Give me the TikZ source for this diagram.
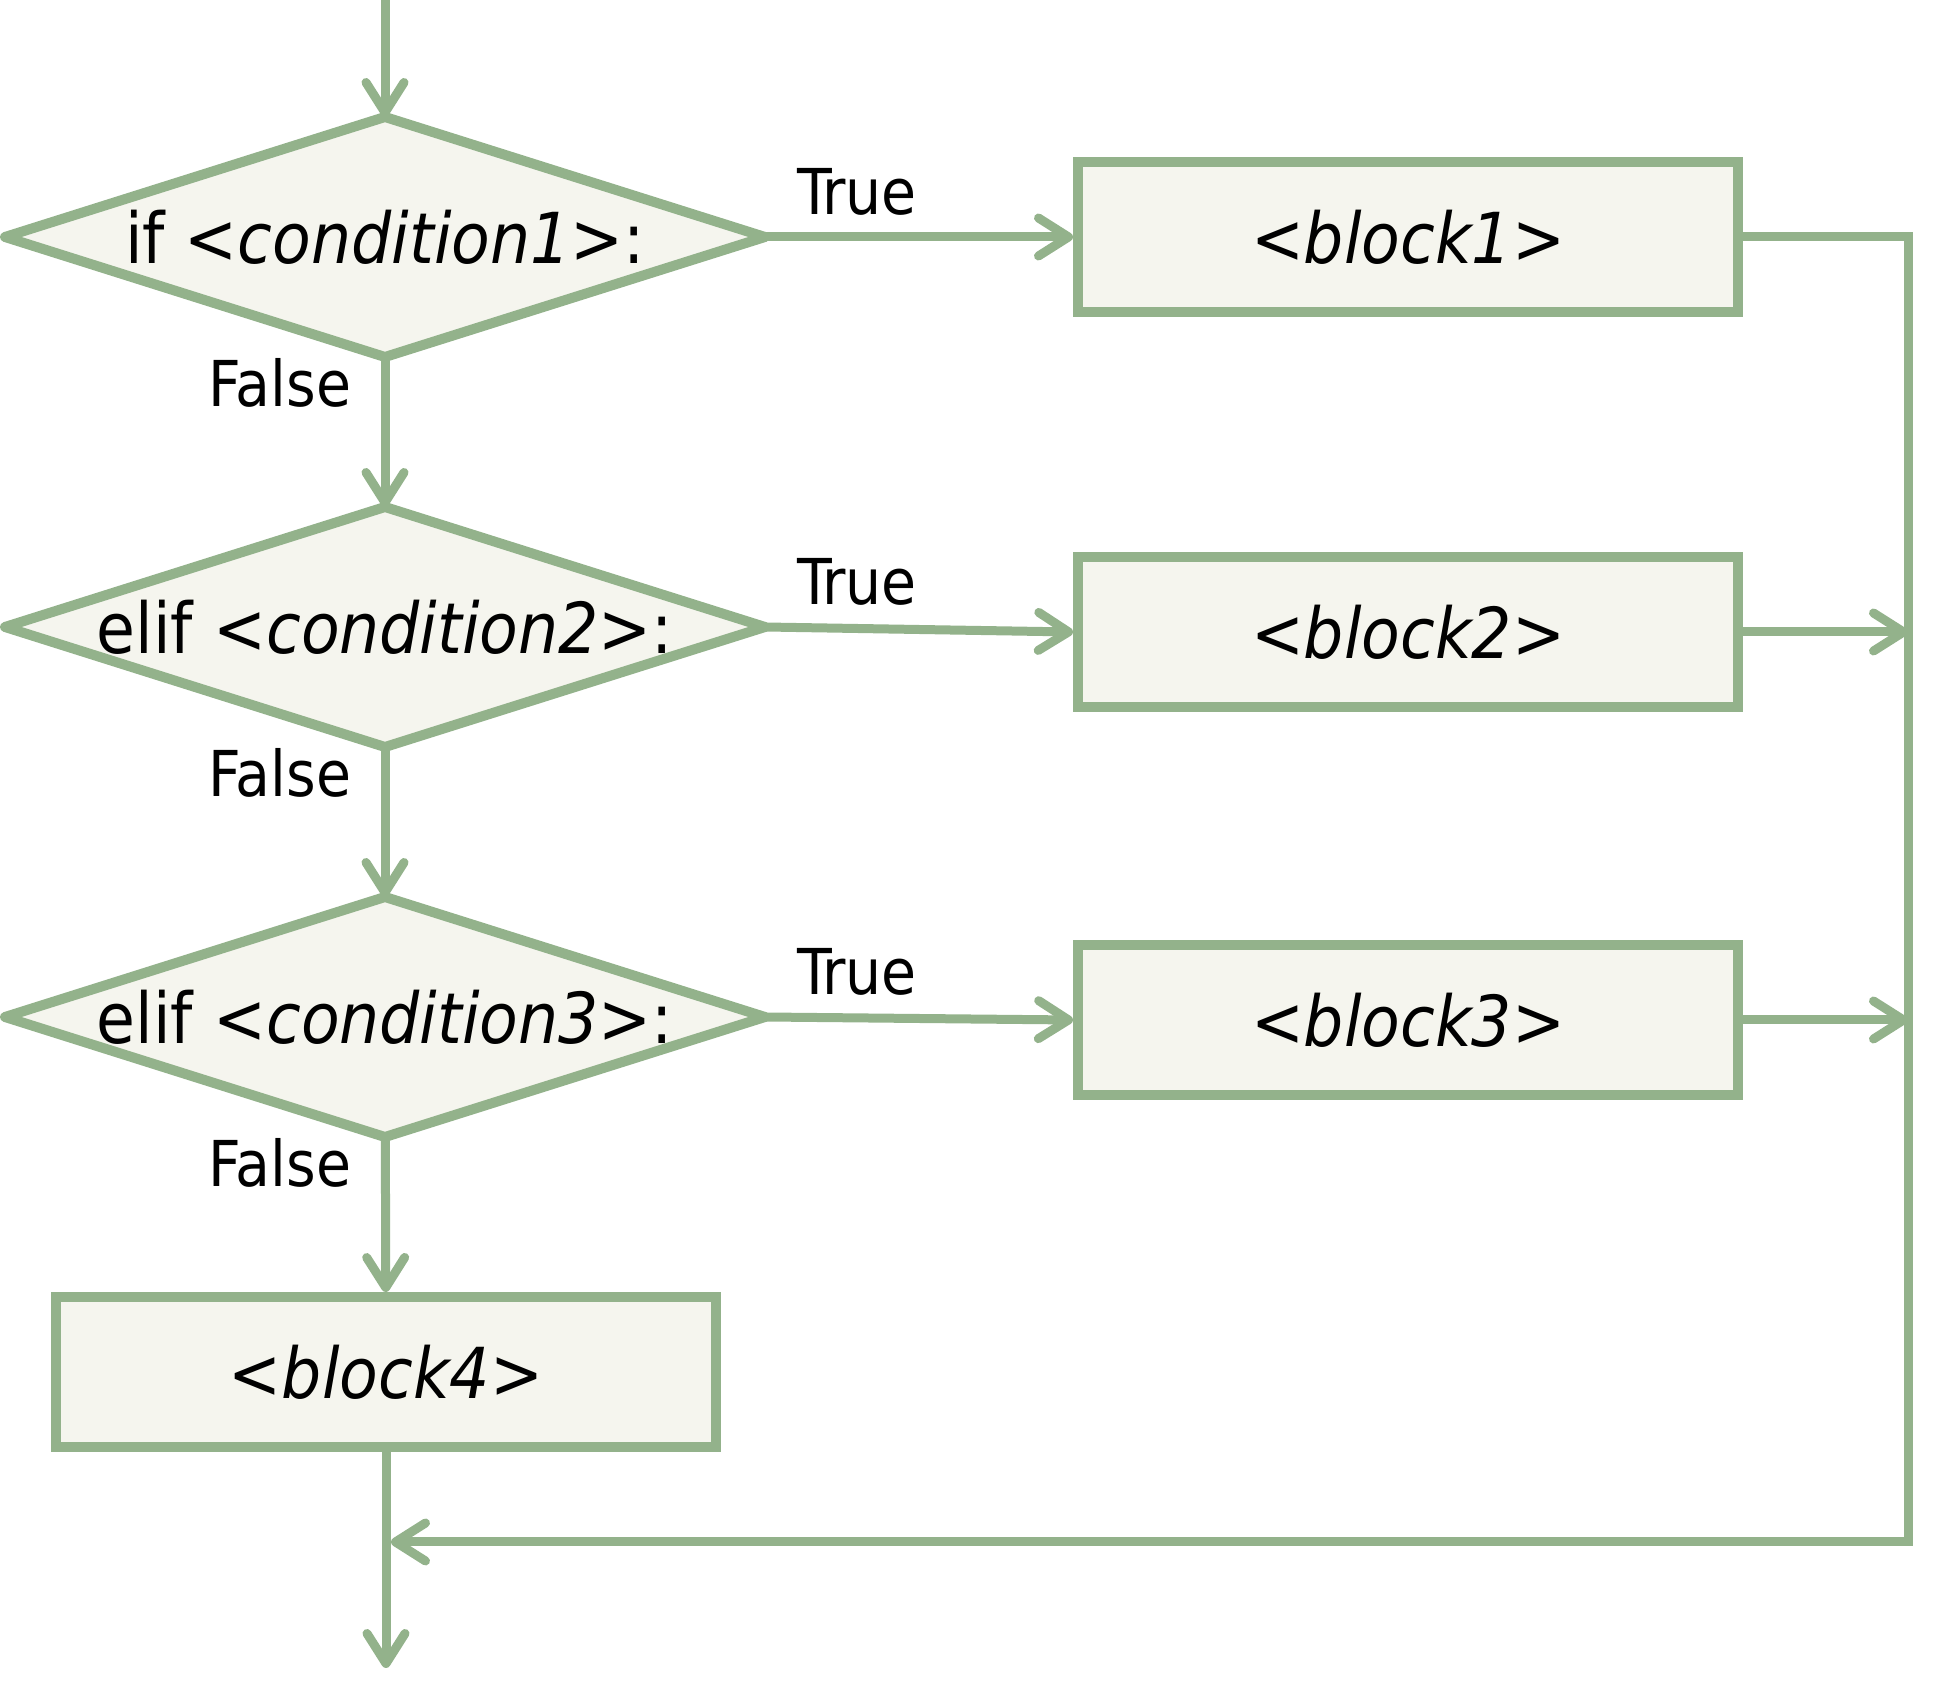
\documentclass[tikz,border=0pt]{standalone}
\usepackage{fontspec}
\setmainfont{DejaVuSansCondensed}[Extension=.ttf, ItalicFont=DejaVuSansCondensed-Oblique]
\usepackage{tikz}
\usetikzlibrary{arrows.meta,shapes.geometric,positioning,calc}
\usepackage{xcolor}
\definecolor{flowgreen}{RGB}{147,178,139}
\definecolor{flowfill}{RGB}{245,245,238}
\tikzstyle{arrow} = [line width=0.09cm,-{Straight Barb[length=0.3cm,width=0.38cm,round]},color=flowgreen]
\tikzstyle{condbox} = [diamond, draw=flowgreen, fill=flowfill, line width=0.1cm, line join=round, inner sep=0pt, outer sep=0pt, minimum width=7.6cm, minimum height=2.4cm]
\tikzstyle{blockbox} = [rectangle, draw=flowgreen, fill=flowfill, line width=0.1cm, minimum width=6.6cm, minimum height=1.5cm, text centered, font=\fontsize{20pt}{24pt}\selectfont]
\tikzstyle{condtext} = [font=\fontsize{20pt}{24pt}\selectfont]
\tikzstyle{lbl} = [anchor=base, inner sep=0pt, font=\fontsize{18pt}{21pt}\selectfont]

\begin{document}
\begin{tikzpicture}[y=-1cm]
\useasboundingbox (0,0) rectangle (19.5,17.04);
\node[condbox] (c1) at (3.85,2.37) {};
\node[condtext] at (c1) {if <\textit{condition1}>:};
\node[condbox] (c2) at (3.85,6.27) {};
\node[condtext] at (c2) {elif <\textit{condition2}>:};
\node[condbox] (c3) at (3.85,10.17) {};
\node[condtext] at (c3) {elif <\textit{condition3}>:};
\node[blockbox] (b1) at (14.08,2.37) {<\textit{block1}>};
\node[blockbox] (b2) at (14.08,6.32) {<\textit{block2}>};
\node[blockbox] (b3) at (14.08,10.20) {<\textit{block3}>};
\node[blockbox] (b4) at (3.86,13.72) {<\textit{block4}>};
\coordinate (start) at (3.85,0);
\coordinate (stop) at (3.86,16.68);
\coordinate (r1) at (19.08,2.37);
\coordinate (r2) at (19.08,6.32);
\coordinate (r3) at (19.08,10.20);
\coordinate (r4) at (19.08,15.42);
\coordinate (join) at (3.91,15.42);
% labels
\foreach \n in {1,2,3} {
  \node[lbl] (t\n) at ([xshift=0.92cm,yshift=0.22cm]c\n.east) {True};
  \node[lbl] (f\n) at ([xshift=-1.05cm,yshift=-0.5cm]c\n.south) {False};
}
% connectors
\draw[arrow] (start) -- (c1);
\draw[arrow] (c1) -- (c2);
\draw[arrow] (c2) -- (c3);
\draw[arrow] (c3) -- (b4);
\draw[arrow] (c1.east) -- (b1.west);
\draw[arrow] (c2.east) -- (b2.west);
\draw[arrow] (c3.east) -- (b3.west);
\draw[arrow] (b2.east) -- (r2);
\draw[arrow] (b3.east) -- (r3);
\draw[arrow, line join=miter] (b1.east) -- (r1) -- (r4) -- (join);
\draw[arrow] (b4) -- (stop);
\end{tikzpicture}
\end{document}
